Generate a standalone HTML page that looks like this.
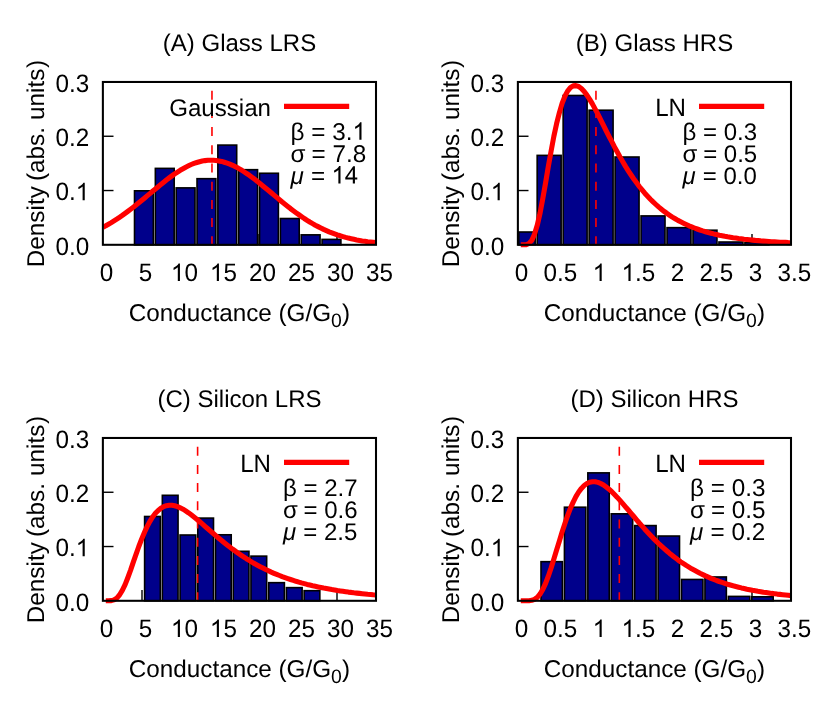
<!DOCTYPE html>
<html lang="en"><head><meta charset="utf-8"><title>Conductance histograms</title>
<style>html,body{margin:0;padding:0;background:#fff}body{width:830px;height:712px;overflow:hidden;font-family:"Liberation Sans",sans-serif}svg{display:block;will-change:transform}</style></head>
<body>
<svg width="830" height="712" viewBox="0 0 830 712" font-family="'Liberation Sans', sans-serif" font-size="24.27" fill="#000" text-rendering="geometricPrecision">
<rect width="830" height="712" fill="#fff"/>
<g transform="translate(0,0)">
<path d="M103 190.53h10.5" stroke="#000" stroke-width="1.4" fill="none"/>
<path d="M103 136.26h10.5" stroke="#000" stroke-width="1.4" fill="none"/>
<path d="M142.00 244.8v-10.8" stroke="#000" stroke-width="1.4" fill="none"/>
<path d="M181.00 244.8v-10.8" stroke="#000" stroke-width="1.4" fill="none"/>
<path d="M220.00 244.8v-10.8" stroke="#000" stroke-width="1.4" fill="none"/>
<path d="M259.00 244.8v-10.8" stroke="#000" stroke-width="1.4" fill="none"/>
<path d="M298.00 244.8v-10.8" stroke="#000" stroke-width="1.4" fill="none"/>
<path d="M337.00 244.8v-10.8" stroke="#000" stroke-width="1.4" fill="none"/>
<rect x="134.50" y="190.81" width="18.84" height="53.99" fill="#00008b" stroke="#000" stroke-width="1.6"/>
<rect x="155.34" y="168.38" width="18.84" height="76.42" fill="#00008b" stroke="#000" stroke-width="1.6"/>
<rect x="176.18" y="187.88" width="18.84" height="56.92" fill="#00008b" stroke="#000" stroke-width="1.6"/>
<rect x="197.02" y="178.68" width="18.84" height="66.12" fill="#00008b" stroke="#000" stroke-width="1.6"/>
<rect x="217.86" y="145.09" width="18.84" height="99.71" fill="#00008b" stroke="#000" stroke-width="1.6"/>
<rect x="238.70" y="169.68" width="18.84" height="75.12" fill="#00008b" stroke="#000" stroke-width="1.6"/>
<rect x="259.54" y="173.26" width="18.84" height="71.54" fill="#00008b" stroke="#000" stroke-width="1.6"/>
<rect x="280.38" y="218.51" width="18.84" height="26.29" fill="#00008b" stroke="#000" stroke-width="1.6"/>
<rect x="301.22" y="234.85" width="18.84" height="9.95" fill="#00008b" stroke="#000" stroke-width="1.6"/>
<rect x="322.06" y="239.40" width="18.84" height="5.40" fill="#00008b" stroke="#000" stroke-width="1.6"/>
<path d="M211.97 90.7V244.8" stroke="#f00" stroke-width="1.6" stroke-dasharray="9 9.2" fill="none"/>
<polyline points="103.0,227.1 105.8,225.7 108.5,224.2 111.3,222.6 114.0,220.9 116.8,219.1 119.5,217.3 122.3,215.4 125.1,213.4 127.8,211.4 130.6,209.3 133.3,207.2 136.1,205.0 138.8,202.8 141.6,200.5 144.4,198.2 147.1,195.9 149.9,193.6 152.6,191.3 155.4,189.0 158.2,186.7 160.9,184.4 163.7,182.2 166.4,180.0 169.2,177.9 171.9,175.9 174.7,173.9 177.5,172.1 180.2,170.3 183.0,168.7 185.7,167.2 188.5,165.8 191.2,164.5 194.0,163.4 196.8,162.5 199.5,161.7 202.3,161.0 205.0,160.6 207.8,160.3 210.5,160.2 213.3,160.2 216.1,160.5 218.8,160.9 221.6,161.4 224.3,162.2 227.1,163.1 229.8,164.1 232.6,165.3 235.4,166.7 238.1,168.1 240.9,169.7 243.6,171.5 246.4,173.3 249.2,175.2 251.9,177.2 254.7,179.3 257.4,181.4 260.2,183.7 262.9,185.9 265.7,188.2 268.5,190.5 271.2,192.8 274.0,195.1 276.7,197.4 279.5,199.7 282.2,202.0 285.0,204.2 287.8,206.4 290.5,208.6 293.3,210.7 296.0,212.7 298.8,214.7 301.5,216.6 304.3,218.5 307.1,220.3 309.8,222.0 312.6,223.6 315.3,225.2 318.1,226.6 320.8,228.0 323.6,229.4 326.4,230.6 329.1,231.8 331.9,232.9 334.6,233.9 337.4,234.9 340.2,235.8 342.9,236.6 345.7,237.4 348.4,238.1 351.2,238.7 353.9,239.3 356.7,239.9 359.5,240.4 362.2,240.9 365.0,241.3 367.7,241.7 370.5,242.0 373.2,242.3 376.0,242.6" stroke="#f00" stroke-width="5.1" fill="none" stroke-linejoin="round"/>
<rect x="102.88" y="81.97" width="273.12" height="162.83" fill="none" stroke="#000" stroke-width="2.06"/>
<path d="M284 106.4H349.2" stroke="#f00" stroke-width="5.1"/>
<text x="271.0" y="115.5" text-anchor="end" font-size="24.1">Gaussian</text>
<text x="290.6" y="139.8" font-size="24.27">β = 3.</text><path transform="translate(352.46,139.75) scale(0.01185,-0.01185)" d="M763 0H583V1147Q518 1085 412.5 1023T223 930V1104Q374 1175 487 1276T647 1472H763Z"/>
<text x="290.6" y="161.7" font-size="24.27">σ<tspan dx="-0.7"> = 7.8</tspan></text>
<text x="290.6" y="183.6" font-size="24.27"><tspan font-style="italic">μ</tspan><tspan dx="0.4"> = </tspan></text><path transform="translate(331.46,183.55) scale(0.01185,-0.01185)" d="M763 0H583V1147Q518 1085 412.5 1023T223 930V1104Q374 1175 487 1276T647 1472H763Z"/><path transform="translate(344.96,183.55) scale(0.01185,-0.01185)" d="M662 0V351H26V516L695 1466H842V516H1040V351H842V0ZM662 516V1177L203 516Z"/>
<text x="239.5" y="50.6" text-anchor="middle" font-size="24">(A) Glass LRS</text>
<text transform="translate(55.45,254.60) scale(1,1.04)">0.0</text>
<text transform="translate(55.45,200.14) scale(1,1.04)">0.</text><path transform="translate(75.70,200.14) scale(0.01185,-0.01185)" d="M763 0H583V1147Q518 1085 412.5 1023T223 930V1104Q374 1175 487 1276T647 1472H763Z"/>
<text transform="translate(55.45,145.97) scale(1,1.04)">0.2</text>
<text transform="translate(55.45,91.80) scale(1,1.04)">0.3</text>
<text transform="translate(99.65,280.90) scale(1,1.04)">0</text>
<text transform="translate(138.65,280.90) scale(1,1.04)">5</text>
<path transform="translate(170.90,280.90) scale(0.01185,-0.01185)" d="M763 0H583V1147Q518 1085 412.5 1023T223 930V1104Q374 1175 487 1276T647 1472H763Z"/><text transform="translate(184.40,280.90) scale(1,1.04)">0</text>
<path transform="translate(209.90,280.90) scale(0.01185,-0.01185)" d="M763 0H583V1147Q518 1085 412.5 1023T223 930V1104Q374 1175 487 1276T647 1472H763Z"/><text transform="translate(223.40,280.90) scale(1,1.04)">5</text>
<text transform="translate(248.90,280.90) scale(1,1.04)">20</text>
<text transform="translate(287.90,280.90) scale(1,1.04)">25</text>
<text transform="translate(326.90,280.90) scale(1,1.04)">30</text>
<text transform="translate(365.90,280.90) scale(1,1.04)">35</text>
<text x="239.4" y="320.6" text-anchor="middle">Conductance (G/G<tspan font-size="19.4" dy="6">0</tspan><tspan dy="-6">)</tspan></text>
<text transform="translate(44.15,267.15) rotate(-90)">Density <tspan dx="-1.5">(abs.</tspan> <tspan dx="0.3">units</tspan><tspan dx="0.8">)</tspan></text>
</g>
<g transform="translate(415,0)">
<path d="M103 190.53h10.5" stroke="#000" stroke-width="1.4" fill="none"/>
<path d="M103 136.26h10.5" stroke="#000" stroke-width="1.4" fill="none"/>
<path d="M142.00 244.8v-10.8" stroke="#000" stroke-width="1.4" fill="none"/>
<path d="M181.00 244.8v-10.8" stroke="#000" stroke-width="1.4" fill="none"/>
<path d="M220.00 244.8v-10.8" stroke="#000" stroke-width="1.4" fill="none"/>
<path d="M259.00 244.8v-10.8" stroke="#000" stroke-width="1.4" fill="none"/>
<path d="M298.00 244.8v-10.8" stroke="#000" stroke-width="1.4" fill="none"/>
<path d="M337.00 244.8v-10.8" stroke="#000" stroke-width="1.4" fill="none"/>
<rect x="103.80" y="232.01" width="16.37" height="12.79" fill="#00008b" stroke="#000" stroke-width="1.6"/>
<rect x="122.17" y="155.38" width="23.97" height="89.42" fill="#00008b" stroke="#000" stroke-width="1.6"/>
<rect x="148.14" y="95.48" width="23.97" height="149.32" fill="#00008b" stroke="#000" stroke-width="1.6"/>
<rect x="174.11" y="110.21" width="23.97" height="134.59" fill="#00008b" stroke="#000" stroke-width="1.6"/>
<rect x="200.08" y="157.01" width="23.97" height="87.79" fill="#00008b" stroke="#000" stroke-width="1.6"/>
<rect x="226.05" y="215.91" width="23.97" height="28.89" fill="#00008b" stroke="#000" stroke-width="1.6"/>
<rect x="252.02" y="227.65" width="23.97" height="17.15" fill="#00008b" stroke="#000" stroke-width="1.6"/>
<rect x="277.99" y="230.21" width="23.97" height="14.59" fill="#00008b" stroke="#000" stroke-width="1.6"/>
<rect x="303.96" y="242.00" width="23.97" height="2.80" fill="#00008b" stroke="#000" stroke-width="1.6"/>
<rect x="329.93" y="242.55" width="23.97" height="2.25" fill="#00008b" stroke="#000" stroke-width="1.6"/>
<path d="M180.96 90.7V244.8" stroke="#f00" stroke-width="1.6" stroke-dasharray="9 9.2" fill="none"/>
<polyline points="105.8,244.8 108.5,244.8 111.3,244.6 114.0,243.5 116.8,240.4 119.5,234.3 122.3,225.1 125.1,212.9 127.8,198.5 130.6,182.8 133.3,166.7 136.1,151.1 138.8,136.6 141.6,123.7 144.4,112.6 147.1,103.4 149.9,96.3 152.6,91.1 155.4,87.7 158.2,85.9 160.9,85.6 163.7,86.5 166.4,88.5 169.2,91.5 171.9,95.1 174.7,99.4 177.5,104.1 180.2,109.1 183.0,114.4 185.7,119.8 188.5,125.3 191.2,130.8 194.0,136.3 196.8,141.6 199.5,146.9 202.3,152.0 205.0,157.0 207.8,161.8 210.5,166.4 213.3,170.8 216.1,175.0 218.8,179.0 221.6,182.8 224.3,186.5 227.1,189.9 229.8,193.2 232.6,196.2 235.4,199.2 238.1,201.9 240.9,204.5 243.6,206.9 246.4,209.2 249.2,211.4 251.9,213.4 254.7,215.3 257.4,217.1 260.2,218.8 262.9,220.4 265.7,221.8 268.5,223.2 271.2,224.5 274.0,225.8 276.7,226.9 279.5,228.0 282.2,229.0 285.0,230.0 287.8,230.9 290.5,231.7 293.3,232.5 296.0,233.2 298.8,233.9 301.5,234.5 304.3,235.2 307.1,235.7 309.8,236.3 312.6,236.8 315.3,237.2 318.1,237.7 320.8,238.1 323.6,238.5 326.4,238.8 329.1,239.2 331.9,239.5 334.6,239.8 337.4,240.1 340.2,240.4 342.9,240.6 345.7,240.9 348.4,241.1 351.2,241.3 353.9,241.5 356.7,241.7 359.5,241.8 362.2,242.0 365.0,242.2 367.7,242.3 370.5,242.4 373.2,242.6 376.0,242.7" stroke="#f00" stroke-width="5.1" fill="none" stroke-linejoin="round"/>
<rect x="102.88" y="81.97" width="273.12" height="162.83" fill="none" stroke="#000" stroke-width="2.06"/>
<path d="M284 106.4H349.2" stroke="#f00" stroke-width="5.1"/>
<text transform="translate(271.00,115.50) scale(1,1.04)" text-anchor="end" font-size="24.1">LN</text>
<text x="267.6" y="139.8" font-size="24">β = 0.3</text>
<text x="267.6" y="161.7" font-size="24">σ<tspan dx="-0.9"> = 0.5</tspan></text>
<text x="267.6" y="183.6" font-size="24"><tspan font-style="italic">μ</tspan><tspan dx="0.4"> = 0.0</tspan></text>
<text x="239.5" y="50.6" text-anchor="middle" font-size="24">(B) Glass HRS</text>
<text transform="translate(55.45,254.60) scale(1,1.04)">0.0</text>
<text transform="translate(55.45,200.14) scale(1,1.04)">0.</text><path transform="translate(75.70,200.14) scale(0.01185,-0.01185)" d="M763 0H583V1147Q518 1085 412.5 1023T223 930V1104Q374 1175 487 1276T647 1472H763Z"/>
<text transform="translate(55.45,145.97) scale(1,1.04)">0.2</text>
<text transform="translate(55.45,91.80) scale(1,1.04)">0.3</text>
<text transform="translate(99.65,280.90) scale(1,1.04)">0</text>
<text transform="translate(128.53,280.90) scale(1,1.04)">0.5</text>
<path transform="translate(177.65,280.90) scale(0.01185,-0.01185)" d="M763 0H583V1147Q518 1085 412.5 1023T223 930V1104Q374 1175 487 1276T647 1472H763Z"/>
<path transform="translate(206.53,280.90) scale(0.01185,-0.01185)" d="M763 0H583V1147Q518 1085 412.5 1023T223 930V1104Q374 1175 487 1276T647 1472H763Z"/><text transform="translate(220.03,280.90) scale(1,1.04)">.5</text>
<text transform="translate(255.65,280.90) scale(1,1.04)">2</text>
<text transform="translate(284.53,280.90) scale(1,1.04)">2.5</text>
<text transform="translate(333.65,280.90) scale(1,1.04)">3</text>
<text transform="translate(362.53,280.90) scale(1,1.04)">3.5</text>
<text x="239.4" y="320.6" text-anchor="middle">Conductance (G/G<tspan font-size="19.4" dy="6">0</tspan><tspan dy="-6">)</tspan></text>
<text transform="translate(44.15,267.15) rotate(-90)">Density <tspan dx="-1.5">(abs.</tspan> <tspan dx="0.3">units</tspan><tspan dx="0.8">)</tspan></text>
</g>
<g transform="translate(0,356)">
<path d="M103 190.53h10.5" stroke="#000" stroke-width="1.4" fill="none"/>
<path d="M103 136.26h10.5" stroke="#000" stroke-width="1.4" fill="none"/>
<path d="M142.00 244.8v-10.8" stroke="#000" stroke-width="1.4" fill="none"/>
<path d="M181.00 244.8v-10.8" stroke="#000" stroke-width="1.4" fill="none"/>
<path d="M220.00 244.8v-10.8" stroke="#000" stroke-width="1.4" fill="none"/>
<path d="M259.00 244.8v-10.8" stroke="#000" stroke-width="1.4" fill="none"/>
<path d="M298.00 244.8v-10.8" stroke="#000" stroke-width="1.4" fill="none"/>
<path d="M337.00 244.8v-10.8" stroke="#000" stroke-width="1.4" fill="none"/>
<rect x="144.60" y="160.48" width="15.72" height="84.32" fill="#00008b" stroke="#000" stroke-width="1.6"/>
<rect x="162.33" y="139.30" width="15.72" height="105.50" fill="#00008b" stroke="#000" stroke-width="1.6"/>
<rect x="180.05" y="179.00" width="15.72" height="65.80" fill="#00008b" stroke="#000" stroke-width="1.6"/>
<rect x="197.78" y="162.10" width="15.72" height="82.70" fill="#00008b" stroke="#000" stroke-width="1.6"/>
<rect x="215.50" y="178.78" width="15.72" height="66.02" fill="#00008b" stroke="#000" stroke-width="1.6"/>
<rect x="233.23" y="195.31" width="15.72" height="49.49" fill="#00008b" stroke="#000" stroke-width="1.6"/>
<rect x="250.95" y="200.13" width="15.72" height="44.67" fill="#00008b" stroke="#000" stroke-width="1.6"/>
<rect x="268.67" y="226.67" width="15.72" height="18.13" fill="#00008b" stroke="#000" stroke-width="1.6"/>
<rect x="286.40" y="231.63" width="15.72" height="13.17" fill="#00008b" stroke="#000" stroke-width="1.6"/>
<rect x="304.12" y="234.69" width="15.72" height="10.11" fill="#00008b" stroke="#000" stroke-width="1.6"/>
<path d="M197.61 90.7V244.8" stroke="#f00" stroke-width="1.6" stroke-dasharray="9 9.2" fill="none"/>
<polyline points="105.8,244.8 108.5,244.8 111.3,244.6 114.0,243.9 116.8,242.1 119.5,239.0 122.3,234.4 125.1,228.6 127.8,221.7 130.6,214.1 133.3,206.1 136.1,198.2 138.8,190.5 141.6,183.2 144.4,176.6 147.1,170.6 149.9,165.4 152.6,161.0 155.4,157.3 158.2,154.4 160.9,152.2 163.7,150.6 166.4,149.7 169.2,149.2 171.9,149.3 174.7,149.8 177.5,150.6 180.2,151.8 183.0,153.2 185.7,154.9 188.5,156.8 191.2,158.8 194.0,161.0 196.8,163.2 199.5,165.5 202.3,167.9 205.0,170.3 207.8,172.7 210.5,175.1 213.3,177.5 216.1,179.9 218.8,182.2 221.6,184.5 224.3,186.8 227.1,189.0 229.8,191.1 232.6,193.2 235.4,195.2 238.1,197.2 240.9,199.1 243.6,200.9 246.4,202.7 249.2,204.4 251.9,206.1 254.7,207.7 257.4,209.2 260.2,210.7 262.9,212.1 265.7,213.5 268.5,214.8 271.2,216.1 274.0,217.3 276.7,218.4 279.5,219.5 282.2,220.6 285.0,221.6 287.8,222.6 290.5,223.5 293.3,224.4 296.0,225.3 298.8,226.1 301.5,226.9 304.3,227.6 307.1,228.4 309.8,229.0 312.6,229.7 315.3,230.3 318.1,230.9 320.8,231.5 323.6,232.1 326.4,232.6 329.1,233.1 331.9,233.6 334.6,234.0 337.4,234.5 340.2,234.9 342.9,235.3 345.7,235.7 348.4,236.1 351.2,236.4 353.9,236.8 356.7,237.1 359.5,237.4 362.2,237.7 365.0,238.0 367.7,238.3 370.5,238.5 373.2,238.8 376.0,239.0" stroke="#f00" stroke-width="5.1" fill="none" stroke-linejoin="round"/>
<rect x="102.88" y="81.97" width="273.12" height="162.83" fill="none" stroke="#000" stroke-width="2.06"/>
<path d="M284 106.4H349.2" stroke="#f00" stroke-width="5.1"/>
<text transform="translate(271.00,115.50) scale(1,1.04)" text-anchor="end" font-size="24.1">LN</text>
<text x="283" y="139.8" font-size="24">β = 2.7</text>
<text x="283" y="161.7" font-size="24">σ<tspan dx="-0.9"> = 0.6</tspan></text>
<text x="283" y="183.6" font-size="24"><tspan font-style="italic">μ</tspan><tspan dx="0.4"> = 2.5</tspan></text>
<text x="239.5" y="50.6" text-anchor="middle" font-size="24">(C) Silicon LRS</text>
<text transform="translate(55.45,254.60) scale(1,1.04)">0.0</text>
<text transform="translate(55.45,200.14) scale(1,1.04)">0.</text><path transform="translate(75.70,200.14) scale(0.01185,-0.01185)" d="M763 0H583V1147Q518 1085 412.5 1023T223 930V1104Q374 1175 487 1276T647 1472H763Z"/>
<text transform="translate(55.45,145.97) scale(1,1.04)">0.2</text>
<text transform="translate(55.45,91.80) scale(1,1.04)">0.3</text>
<text transform="translate(99.65,280.90) scale(1,1.04)">0</text>
<text transform="translate(138.65,280.90) scale(1,1.04)">5</text>
<path transform="translate(170.90,280.90) scale(0.01185,-0.01185)" d="M763 0H583V1147Q518 1085 412.5 1023T223 930V1104Q374 1175 487 1276T647 1472H763Z"/><text transform="translate(184.40,280.90) scale(1,1.04)">0</text>
<path transform="translate(209.90,280.90) scale(0.01185,-0.01185)" d="M763 0H583V1147Q518 1085 412.5 1023T223 930V1104Q374 1175 487 1276T647 1472H763Z"/><text transform="translate(223.40,280.90) scale(1,1.04)">5</text>
<text transform="translate(248.90,280.90) scale(1,1.04)">20</text>
<text transform="translate(287.90,280.90) scale(1,1.04)">25</text>
<text transform="translate(326.90,280.90) scale(1,1.04)">30</text>
<text transform="translate(365.90,280.90) scale(1,1.04)">35</text>
<text x="239.4" y="320.6" text-anchor="middle">Conductance (G/G<tspan font-size="19.4" dy="6">0</tspan><tspan dy="-6">)</tspan></text>
<text transform="translate(44.15,267.15) rotate(-90)">Density <tspan dx="-1.5">(abs.</tspan> <tspan dx="0.3">units</tspan><tspan dx="0.8">)</tspan></text>
</g>
<g transform="translate(415,356)">
<path d="M103 190.53h10.5" stroke="#000" stroke-width="1.4" fill="none"/>
<path d="M103 136.26h10.5" stroke="#000" stroke-width="1.4" fill="none"/>
<path d="M142.00 244.8v-10.8" stroke="#000" stroke-width="1.4" fill="none"/>
<path d="M181.00 244.8v-10.8" stroke="#000" stroke-width="1.4" fill="none"/>
<path d="M220.00 244.8v-10.8" stroke="#000" stroke-width="1.4" fill="none"/>
<path d="M259.00 244.8v-10.8" stroke="#000" stroke-width="1.4" fill="none"/>
<path d="M298.00 244.8v-10.8" stroke="#000" stroke-width="1.4" fill="none"/>
<path d="M337.00 244.8v-10.8" stroke="#000" stroke-width="1.4" fill="none"/>
<rect x="126.00" y="205.66" width="21.42" height="39.14" fill="#00008b" stroke="#000" stroke-width="1.6"/>
<rect x="149.42" y="151.21" width="21.42" height="93.59" fill="#00008b" stroke="#000" stroke-width="1.6"/>
<rect x="172.84" y="116.87" width="21.42" height="127.93" fill="#00008b" stroke="#000" stroke-width="1.6"/>
<rect x="196.26" y="157.82" width="21.42" height="86.98" fill="#00008b" stroke="#000" stroke-width="1.6"/>
<rect x="219.68" y="169.58" width="21.42" height="75.22" fill="#00008b" stroke="#000" stroke-width="1.6"/>
<rect x="243.10" y="180.03" width="21.42" height="64.77" fill="#00008b" stroke="#000" stroke-width="1.6"/>
<rect x="266.52" y="223.46" width="21.42" height="21.34" fill="#00008b" stroke="#000" stroke-width="1.6"/>
<rect x="289.94" y="220.96" width="21.42" height="23.84" fill="#00008b" stroke="#000" stroke-width="1.6"/>
<rect x="313.36" y="240.40" width="21.42" height="4.40" fill="#00008b" stroke="#000" stroke-width="1.6"/>
<rect x="336.78" y="240.78" width="21.42" height="4.02" fill="#00008b" stroke="#000" stroke-width="1.6"/>
<path d="M204.32 90.7V244.8" stroke="#f00" stroke-width="1.6" stroke-dasharray="9 9.2" fill="none"/>
<polyline points="105.8,244.8 108.5,244.8 111.3,244.8 114.0,244.7 116.8,244.3 119.5,243.3 122.3,241.3 125.1,238.0 127.8,233.4 130.6,227.4 133.3,220.2 136.1,212.0 138.8,203.3 141.6,194.1 144.4,184.9 147.1,176.0 149.9,167.5 152.6,159.6 155.4,152.4 158.2,146.1 160.9,140.6 163.7,136.0 166.4,132.4 169.2,129.5 171.9,127.5 174.7,126.2 177.5,125.7 180.2,125.7 183.0,126.4 185.7,127.5 188.5,129.0 191.2,131.0 194.0,133.2 196.8,135.7 199.5,138.5 202.3,141.4 205.0,144.4 207.8,147.6 210.5,150.8 213.3,154.0 216.1,157.3 218.8,160.5 221.6,163.8 224.3,167.0 227.1,170.1 229.8,173.2 232.6,176.2 235.4,179.2 238.1,182.1 240.9,184.8 243.6,187.5 246.4,190.1 249.2,192.6 251.9,195.0 254.7,197.4 257.4,199.6 260.2,201.7 262.9,203.8 265.7,205.8 268.5,207.6 271.2,209.4 274.0,211.1 276.7,212.8 279.5,214.3 282.2,215.8 285.0,217.3 287.8,218.6 290.5,219.9 293.3,221.1 296.0,222.3 298.8,223.4 301.5,224.5 304.3,225.5 307.1,226.4 309.8,227.3 312.6,228.2 315.3,229.0 318.1,229.8 320.8,230.5 323.6,231.2 326.4,231.9 329.1,232.5 331.9,233.2 334.6,233.7 337.4,234.3 340.2,234.8 342.9,235.3 345.7,235.7 348.4,236.2 351.2,236.6 353.9,237.0 356.7,237.4 359.5,237.7 362.2,238.1 365.0,238.4 367.7,238.7 370.5,239.0 373.2,239.3 376.0,239.6" stroke="#f00" stroke-width="5.1" fill="none" stroke-linejoin="round"/>
<rect x="102.88" y="81.97" width="273.12" height="162.83" fill="none" stroke="#000" stroke-width="2.06"/>
<path d="M284 106.4H349.2" stroke="#f00" stroke-width="5.1"/>
<text transform="translate(271.00,115.50) scale(1,1.04)" text-anchor="end" font-size="24.1">LN</text>
<text x="275.1" y="139.8" font-size="24.27">β = 0.3</text>
<text x="275.1" y="161.7" font-size="24.27">σ<tspan dx="-0.9"> = 0.5</tspan></text>
<text x="275.1" y="183.6" font-size="24.27"><tspan font-style="italic">μ</tspan><tspan dx="0.4"> = 0.2</tspan></text>
<text x="239.5" y="50.6" text-anchor="middle" font-size="24">(D) Silicon HRS</text>
<text transform="translate(55.45,254.60) scale(1,1.04)">0.0</text>
<text transform="translate(55.45,200.14) scale(1,1.04)">0.</text><path transform="translate(75.70,200.14) scale(0.01185,-0.01185)" d="M763 0H583V1147Q518 1085 412.5 1023T223 930V1104Q374 1175 487 1276T647 1472H763Z"/>
<text transform="translate(55.45,145.97) scale(1,1.04)">0.2</text>
<text transform="translate(55.45,91.80) scale(1,1.04)">0.3</text>
<text transform="translate(99.65,280.90) scale(1,1.04)">0</text>
<text transform="translate(128.53,280.90) scale(1,1.04)">0.5</text>
<path transform="translate(177.65,280.90) scale(0.01185,-0.01185)" d="M763 0H583V1147Q518 1085 412.5 1023T223 930V1104Q374 1175 487 1276T647 1472H763Z"/>
<path transform="translate(206.53,280.90) scale(0.01185,-0.01185)" d="M763 0H583V1147Q518 1085 412.5 1023T223 930V1104Q374 1175 487 1276T647 1472H763Z"/><text transform="translate(220.03,280.90) scale(1,1.04)">.5</text>
<text transform="translate(255.65,280.90) scale(1,1.04)">2</text>
<text transform="translate(284.53,280.90) scale(1,1.04)">2.5</text>
<text transform="translate(333.65,280.90) scale(1,1.04)">3</text>
<text transform="translate(362.53,280.90) scale(1,1.04)">3.5</text>
<text x="239.4" y="320.6" text-anchor="middle">Conductance (G/G<tspan font-size="19.4" dy="6">0</tspan><tspan dy="-6">)</tspan></text>
<text transform="translate(44.15,267.15) rotate(-90)">Density <tspan dx="-1.5">(abs.</tspan> <tspan dx="0.3">units</tspan><tspan dx="0.8">)</tspan></text>
</g>
</svg>
</body></html>
